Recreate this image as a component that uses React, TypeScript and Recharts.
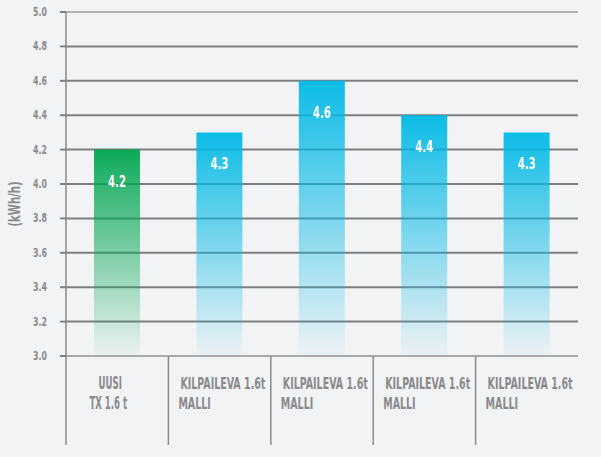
import React from "react";
import {
  BarChart,
  Bar,
  XAxis,
  YAxis,
  CartesianGrid,
  ReferenceLine,
  LabelList,
  Cell,
} from "recharts";

const categories = ["UUSI|TX 1.6 t", "KILPAILEVA 1.6t|MALLI", "KILPAILEVA 1.6t|MALLI", "KILPAILEVA 1.6t|MALLI", "KILPAILEVA 1.6t|MALLI"];
const values = [4.2, 4.3, 4.6, 4.4, 4.3];
const barColors = ["green", "blue", "blue", "blue", "blue"];
const yTicks = [3.0, 3.2, 3.4, 3.6, 3.8, 4.0, 4.2, 4.4, 4.6, 4.8, 5.0];
const yLabel = "(kWh/h)";

const data = categories.map((c, i) => ({ key: `c${i}`, name: c, value: values[i], color: barColors[i] }));

const FONT = "'DejaVu Sans Condensed', 'DejaVu Sans', sans-serif";
const TEXT_GREY = "#8a8a8c";
const W = 601;
const H = 457;
const M = { top: 12, right: 23, left: 0, bottom: 12 };
const Y_W = 66;
const X_H = 89;
const BAND = (W - M.right - Y_W) / categories.length;

const XTick = (props: any) => {
  const { x, y, payload, index } = props;
  const half = payload && payload.offset ? payload.offset : BAND / 2;
  const left = x - half;
  const [l1, l2] = String(categories[index] ?? payload.value).split("|");
  const centered = index === 0;
  return (
    <g>
      <line x1={left} x2={left} y1={y} y2={y + X_H} stroke="#8a8a8c" strokeWidth={1.5} />
      {centered ? (
        <>
          <text transform={`translate(${x - 7},${y + 33}) scale(0.56,1)`} textAnchor="middle" fontFamily={FONT} fontWeight="bold" fontSize={17} fill={TEXT_GREY}>{l1}</text>
          <text transform={`translate(${x - 9},${y + 53}) scale(0.56,1)`} textAnchor="middle" fontFamily={FONT} fontWeight="bold" fontSize={17} fill={TEXT_GREY}>{l2}</text>
        </>
      ) : (
        <>
          <text transform={`translate(${left + 12},${y + 33}) scale(0.66,1)`} textAnchor="start" fontFamily={FONT} fontWeight="bold" fontSize={16} fill={TEXT_GREY}>{l1}</text>
          <text transform={`translate(${left + 10},${y + 53}) scale(0.66,1)`} textAnchor="start" fontFamily={FONT} fontWeight="bold" fontSize={16} fill={TEXT_GREY}>{l2}</text>
        </>
      )}
    </g>
  );
};

const YTick = (props: any) => {
  const { x, y, payload } = props;
  return (
    <text transform={`translate(${x},${y + 4}) scale(0.76,1)`} textAnchor="end" fontFamily={FONT} fontWeight="bold" fontSize={11.5} fill={TEXT_GREY}>
      {Number(payload.value).toFixed(1)}
    </text>
  );
};

const YLabel = (props: any) => {
  const vb = props.viewBox || {};
  const cy = (vb.y ?? 12) + (vb.height ?? 344) / 2 + 20;
  return (
    <text transform={`translate(20,${cy}) rotate(-90) scale(0.75,1)`} textAnchor="middle" fontFamily={FONT} fontWeight="bold" fontSize={15} fill={TEXT_GREY}>
      {yLabel}
    </text>
  );
};

const ValueLabel = (props: any) => {
  const { x, y, width, value } = props;
  return (
    <text transform={`translate(${x + width / 2},${y + 37}) scale(0.68,1)`} textAnchor="middle" fontFamily={FONT} fontWeight="bold" fontSize={16.5} fill="#ffffff">
      {Number(value).toFixed(1)}
    </text>
  );
};

export default function App() {
  return (
    <div style={{ position: "absolute", left: 0, top: 0, width: W, height: H, background: "#f2f3f5" }}>
      <BarChart width={W} height={H} data={data} margin={M} barSize={46}>
        <defs>
          <linearGradient id="gGreen" x1="0" y1="0" x2="0" y2="1">
            <stop offset="0%" stopColor="#00a651" stopOpacity={0.95} />
            <stop offset="100%" stopColor="#00a651" stopOpacity={0.02} />
          </linearGradient>
          <linearGradient id="gBlue" x1="0" y1="0" x2="0" y2="1">
            <stop offset="0%" stopColor="#00b9e6" stopOpacity={0.95} />
            <stop offset="100%" stopColor="#00b9e6" stopOpacity={0.02} />
          </linearGradient>
        </defs>
        <CartesianGrid vertical={false} stroke="#7f7f81" strokeWidth={2} />
        <XAxis
          dataKey="key"
          axisLine={{ stroke: "#a9a9ab", strokeWidth: 2 }}
          tickLine={false}
          tickSize={0}
          tickMargin={0}
          height={X_H}
          interval={0}
          tick={<XTick />}
        />
        <YAxis
          domain={[3, 5]}
          ticks={yTicks}
          width={Y_W}
          axisLine={{ stroke: "#8a8a8c", strokeWidth: 1.5 }}
          tickLine={{ stroke: "#7f7f81", strokeWidth: 2 }}
          tickSize={6}
          tickMargin={13}
          tick={<YTick />}
          allowDataOverflow
          label={<YLabel />}
        />
        <ReferenceLine y={5} stroke="#b3b3b5" strokeWidth={2} />
        <Bar dataKey="value" isAnimationActive={false}>
          {data.map((d) => (
            <Cell key={d.key} fill={d.color === "green" ? "url(#gGreen)" : "url(#gBlue)"} />
          ))}
          <LabelList dataKey="value" content={<ValueLabel />} />
        </Bar>
      </BarChart>
    </div>
  );
}
